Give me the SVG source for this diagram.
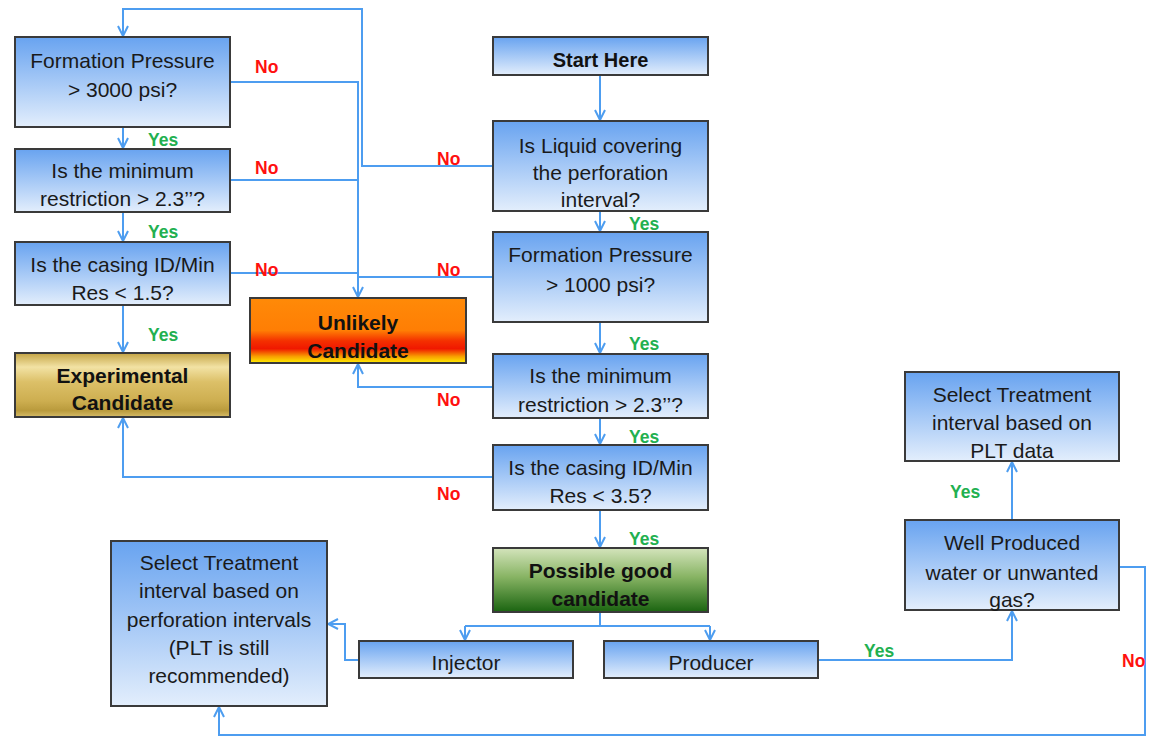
<svg xmlns="http://www.w3.org/2000/svg" width="1158" height="738" viewBox="0 0 1158 738">
<defs>
<linearGradient id="gBlue" x1="0" y1="0" x2="0" y2="1">
<stop offset="0" stop-color="#68a3f0"/><stop offset="1" stop-color="#e3eefc"/>
</linearGradient>
<linearGradient id="gRed" x1="0" y1="0" x2="0" y2="1">
<stop offset="0" stop-color="#ff8a08"/><stop offset="0.5" stop-color="#ff7e04"/><stop offset="0.66" stop-color="#f43000"/><stop offset="0.78" stop-color="#f01800"/><stop offset="0.9" stop-color="#f8a000"/><stop offset="1" stop-color="#fff000"/>
</linearGradient>
<linearGradient id="gGold" x1="0" y1="0" x2="0" y2="1">
<stop offset="0" stop-color="#c4a444"/><stop offset="0.22" stop-color="#f2e2a4"/><stop offset="0.45" stop-color="#dcc068"/><stop offset="0.75" stop-color="#cdae50"/><stop offset="0.9" stop-color="#b99a3c"/><stop offset="1" stop-color="#d6bc68"/>
</linearGradient>
<linearGradient id="gGreen" x1="0" y1="0" x2="0" y2="1">
<stop offset="0" stop-color="#d4e4bc"/><stop offset="0.45" stop-color="#88b464"/><stop offset="1" stop-color="#1a6410"/>
</linearGradient>
<marker id="arr" viewBox="0 0 12 12" refX="11" refY="6" markerWidth="12" markerHeight="12" markerUnits="userSpaceOnUse" orient="auto">
<path d="M1,1 L11,6 L1,11" fill="none" stroke="#4d9df0" stroke-width="2"/>
</marker>
<style>
.box{stroke:#3a3a3a;stroke-width:2}
.b{fill:url(#gBlue)}
.t{font-family:"Liberation Sans",Arial,sans-serif;font-size:21px;fill:#1a1a1a;text-anchor:middle}
.tb{font-family:"Liberation Sans",Arial,sans-serif;font-size:21px;font-weight:bold;fill:#111;text-anchor:middle}
.c{fill:none;stroke:#4d9df0;stroke-width:2}
.no{font-family:"Liberation Sans",Arial,sans-serif;font-size:17.5px;font-weight:bold;fill:#ff1010}
.yes{font-family:"Liberation Sans",Arial,sans-serif;font-size:17.5px;font-weight:bold;fill:#22b050}
</style>
</defs>
<rect width="1158" height="738" fill="#fff"/>

<g id="connectors">
<path class="c" d="M600,75 V120" marker-end="url(#arr)"/>
<path class="c" d="M600,211 V231" marker-end="url(#arr)"/>
<path class="c" d="M600,322 V353" marker-end="url(#arr)"/>
<path class="c" d="M600,418 V444" marker-end="url(#arr)"/>
<path class="c" d="M600,510 V547" marker-end="url(#arr)"/>
<path class="c" d="M123,127 V148" marker-end="url(#arr)"/>
<path class="c" d="M123,212 V241" marker-end="url(#arr)"/>
<path class="c" d="M123,305 V352" marker-end="url(#arr)"/>
<path class="c" d="M493,166 H362 V9 H123 V36" marker-end="url(#arr)"/>
<path class="c" d="M230,82 H358 V297" marker-end="url(#arr)"/>
<path class="c" d="M230,180 H358"/>
<path class="c" d="M230,273 H358"/>
<path class="c" d="M493,277 H358"/>
<path class="c" d="M493,387 H358 V364" marker-end="url(#arr)"/>
<path class="c" d="M493,477 H123 V418" marker-end="url(#arr)"/>
<path class="c" d="M600,612 V626"/>
<path class="c" d="M465,626 H710"/>
<path class="c" d="M465,626 V640" marker-end="url(#arr)"/>
<path class="c" d="M710,626 V640" marker-end="url(#arr)"/>
<path class="c" d="M359,660 H345 V624 H328" marker-end="url(#arr)"/>
<path class="c" d="M818,660 H1012 V611" marker-end="url(#arr)"/>
<path class="c" d="M1012,520 V462" marker-end="url(#arr)"/>
<path class="c" d="M1119,567 H1145 V735 H219 V707" marker-end="url(#arr)"/>
</g>

<g id="labels">
<text class="no" x="255" y="73">No</text>
<text class="yes" x="148" y="146">Yes</text>
<text class="no" x="255" y="174">No</text>
<text class="yes" x="148" y="238">Yes</text>
<text class="no" x="437" y="165">No</text>
<text class="no" x="255" y="276">No</text>
<text class="no" x="437" y="276">No</text>
<text class="yes" x="148" y="341">Yes</text>
<text class="no" x="437" y="406">No</text>
<text class="no" x="437" y="500">No</text>
<text class="yes" x="629" y="230">Yes</text>
<text class="yes" x="629" y="350">Yes</text>
<text class="yes" x="629" y="443">Yes</text>
<text class="yes" x="629" y="545">Yes</text>
<text class="yes" x="864" y="657">Yes</text>
<text class="no" x="1122" y="667">No</text>
<text class="yes" x="950" y="498">Yes</text>
</g>

<g id="fp3000"><rect class="box b" x="15" y="37" width="215" height="90"/>
<text class="t" x="122.5" y="68">Formation Pressure</text><text class="t" x="122.5" y="97">&gt; 3000 psi?</text></g>
<g id="minres1"><rect class="box b" x="15" y="149" width="215" height="63"/>
<text class="t" x="122.5" y="178">Is the minimum</text><text class="t" x="122.5" y="206">restriction &gt; 2.3’’?</text></g>
<g id="casing15"><rect class="box b" x="15" y="242" width="215" height="63"/>
<text class="t" x="122.5" y="272">Is the casing ID/Min</text><text class="t" x="122.5" y="300">Res &lt; 1.5?</text></g>
<g id="experimental"><rect class="box" fill="url(#gGold)" x="15" y="353" width="215" height="64"/>
<text class="tb" x="122.5" y="383">Experimental</text><text class="tb" x="122.5" y="410">Candidate</text></g>
<g id="unlikely"><rect class="box" fill="url(#gRed)" x="250" y="298" width="216" height="65"/>
<text class="tb" x="358" y="330">Unlikely</text><text class="tb" x="358" y="358">Candidate</text></g>

<g id="start"><rect class="box b" x="493" y="37" width="215" height="38"/>
<text class="tb" x="600.5" y="67" style="font-size:20px">Start Here</text></g>
<g id="liquid"><rect class="box b" x="493" y="121" width="215" height="90"/>
<text class="t" x="600.5" y="153">Is Liquid covering</text><text class="t" x="600.5" y="180">the perforation</text><text class="t" x="600.5" y="207">interval?</text></g>
<g id="fp1000"><rect class="box b" x="493" y="232" width="215" height="90"/>
<text class="t" x="600.5" y="262">Formation Pressure</text><text class="t" x="600.5" y="292">&gt; 1000 psi?</text></g>
<g id="minres2"><rect class="box b" x="493" y="354" width="215" height="64"/>
<text class="t" x="600.5" y="383">Is the minimum</text><text class="t" x="600.5" y="412">restriction &gt; 2.3’’?</text></g>
<g id="casing35"><rect class="box b" x="493" y="445" width="215" height="65"/>
<text class="t" x="600.5" y="475">Is the casing ID/Min</text><text class="t" x="600.5" y="503">Res &lt; 3.5?</text></g>
<g id="possible"><rect class="box" fill="url(#gGreen)" x="493" y="548" width="215" height="64"/>
<text class="tb" x="600.5" y="578">Possible good</text><text class="tb" x="600.5" y="606">candidate</text></g>

<g id="selectperf"><rect class="box b" x="111" y="541" width="216" height="165"/>
<text class="t" x="219" y="570">Select Treatment</text><text class="t" x="219" y="598">interval based on</text><text class="t" x="219" y="627">perforation intervals</text><text class="t" x="219" y="655">(PLT is still</text><text class="t" x="219" y="683">recommended)</text></g>
<g id="injector"><rect class="box b" x="359" y="641" width="214" height="37"/>
<text class="t" x="466" y="670">Injector</text></g>
<g id="producer"><rect class="box b" x="604" y="641" width="214" height="37"/>
<text class="t" x="711" y="670">Producer</text></g>
<g id="wellprod"><rect class="box b" x="905" y="520" width="214" height="90"/>
<text class="t" x="1012" y="550">Well Produced</text><text class="t" x="1012" y="580">water or unwanted</text><text class="t" x="1012" y="607">gas?</text></g>
<g id="selectplt"><rect class="box b" x="905" y="372" width="214" height="89"/>
<text class="t" x="1012" y="402">Select Treatment</text><text class="t" x="1012" y="430">interval based on</text><text class="t" x="1012" y="458">PLT data</text></g>
</svg>
